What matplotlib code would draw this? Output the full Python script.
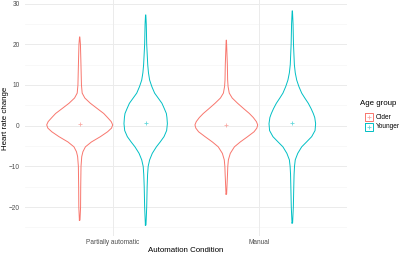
import numpy as np
import matplotlib
matplotlib.use("Agg")
import matplotlib.pyplot as plt
from matplotlib.lines import Line2D

plt.rcParams["font.family"] = ["Liberation Sans", "DejaVu Sans"]

# ---- data ----
conditions = ["Partially automatic", "Manual"]
groups = ["Older", "Younger"]
colors = {"Older": "#F8766D", "Younger": "#00BFC4"}

# violin profiles: y levels and half-widths (category units)
older_pa_y = [-23.2, -20, -15, -10, -7.6, -6.4, -5.2, -4.0, -2.7, -1.5, -0.6, 0.2, 1.0, 2.0, 3.0, 4.2, 5.5, 6.8, 8.0, 10, 13, 16, 20, 21.8]
older_pa_w = [0.002, 0.006, 0.007, 0.009, 0.014, 0.022, 0.039, 0.080, 0.141, 0.190, 0.217, 0.225, 0.215, 0.190, 0.164, 0.120, 0.073, 0.035, 0.017, 0.012, 0.010, 0.008, 0.005, 0.001]

younger_pa_y = [-24.4, -20, -15, -12, -10, -8.4, -6.8, -5.2, -4.0, -2.7, -1.2, 0.5, 2.0, 3.0, 4.2, 5.5, 6.8, 8.0, 9.6, 11.2, 13, 15, 20, 25, 27.2]
younger_pa_w = [0.002, 0.007, 0.010, 0.013, 0.017, 0.027, 0.045, 0.073, 0.099, 0.125, 0.143, 0.148, 0.145, 0.141, 0.127, 0.111, 0.085, 0.061, 0.042, 0.027, 0.019, 0.014, 0.007, 0.004, 0.001]

older_man_y = [-16.8, -12, -10, -8.4, -6.8, -5.2, -4.0, -2.7, -1.5, -0.6, 0.2, 1.0, 2.0, 3.0, 4.2, 5.5, 6.8, 8.0, 9.6, 11.2, 15, 21.0]
older_man_w = [0.002, 0.008, 0.010, 0.014, 0.027, 0.055, 0.095, 0.145, 0.189, 0.208, 0.214, 0.205, 0.184, 0.157, 0.118, 0.077, 0.040, 0.020, 0.012, 0.009, 0.007, 0.001]

younger_man_y = [-23.9, -20, -15, -12, -10, -8.4, -6.8, -5.2, -4.0, -2.7, -1.2, 0.5, 2.0, 3.0, 4.2, 5.5, 6.8, 8.0, 9.6, 11.2, 13, 15, 20, 25, 28.2]
younger_man_w = [0.002, 0.007, 0.010, 0.012, 0.015, 0.020, 0.037, 0.064, 0.097, 0.132, 0.155, 0.159, 0.153, 0.143, 0.128, 0.109, 0.085, 0.064, 0.045, 0.030, 0.020, 0.014, 0.008, 0.005, 0.001]

means = {("Partially automatic", "Older"): 0.3, ("Partially automatic", "Younger"): 0.7,
         ("Manual", "Older"): 0.2, ("Manual", "Younger"): 0.6}

profiles = {
    ("Partially automatic", "Older"): (older_pa_y, older_pa_w),
    ("Partially automatic", "Younger"): (younger_pa_y, younger_pa_w),
    ("Manual", "Older"): (older_man_y, older_man_w),
    ("Manual", "Younger"): (younger_man_y, younger_man_w),
}

yticks = [-20, -10, 0, 10, 20, 30]
yminor = [-25, -15, -5, 5, 15, 25]

# ---- plot ----
W, H = 400, 254
fig = plt.figure(figsize=(W / 100, H / 100), dpi=100)
L, R, T, B = 24.7, 347.3, 0.3, 235.6
ax = fig.add_axes([L / W, 1 - B / H, (R - L) / W, (B - T) / H])
ax.set_xlim(0.4, 2.6)
ax.set_ylim(-27.0, 30.8)
for s in ax.spines.values():
    s.set_visible(False)

for y in yminor:
    ax.axhline(y, color="#F4F4F4", lw=0.45, zorder=0)
for y in yticks:
    ax.axhline(y, color="#EBEBEB", lw=0.7, zorder=0)
for i in range(len(conditions)):
    ax.axvline(i + 1, color="#EBEBEB", lw=0.7, zorder=0)

dodge = 0.225
for i, cond in enumerate(conditions):
    for j, g in enumerate(groups):
        cx = i + 1 + (-dodge if j == 0 else dodge)
        ys, ws = profiles[(cond, g)]
        ys = np.array(ys); ws = np.array(ws)
        xs = np.concatenate([cx - ws, (cx + ws)[::-1], [cx - ws[0]]])
        yy = np.concatenate([ys, ys[::-1], [ys[0]]])
        ax.plot(xs, yy, color=colors[g], lw=0.7, solid_joinstyle="round", zorder=3)
        ax.plot([cx], [means[(cond, g)]], marker="+", ms=3, mew=0.6,
                color=colors[g], alpha=0.6, zorder=4)

ax.set_xticks([1, 2])
ax.set_xticklabels(conditions, fontsize=4.7, color="#4D4D4D")
ax.set_yticks(yticks)
ax.set_yticklabels([str(v).replace("-", "\u2212") for v in yticks], fontsize=4.7, color="#4D4D4D")
ax.tick_params(axis="x", length=0, pad=2.6)
ax.tick_params(axis="y", length=0, pad=3.5)
fig.text((L + R) / 2 / W, 1 - 250 / H, "Automation Condition", fontsize=5.65,
         color="black", ha="center", va="center")
fig.text(5.5 / W, 1 - (T + B) / 2 / H, "Heart rate change", fontsize=5.65,
         color="black", ha="center", va="center", rotation=90)

# legend (ggplot style)
fig.text(360 / W, 1 - 104 / H, "Age group", fontsize=5.65, va="center", ha="left")
for k, g in enumerate(groups):
    yc = 117.2 + k * 9.6
    x0, x1 = 365.0, 372.8
    y0, y1 = yc - 3.9, yc + 3.9
    bx = np.array([x0, x1, x1, x0, x0]) / W
    by = 1 - np.array([y0, y0, y1, y1, y0]) / H
    fig.add_artist(Line2D(bx, by, transform=fig.transFigure, color=colors[g],
                          lw=0.7, solid_joinstyle="miter"))
    fig.add_artist(Line2D([(x0 + x1) / 2 / W], [1 - yc / H], transform=fig.transFigure,
                          marker="+", ms=3, mew=0.6, color=colors[g], alpha=0.6))
    fig.text(376 / W, 1 - yc / H, g, fontsize=4.7, va="center", ha="left")

fig.savefig("out.png", dpi=100, facecolor="white")
